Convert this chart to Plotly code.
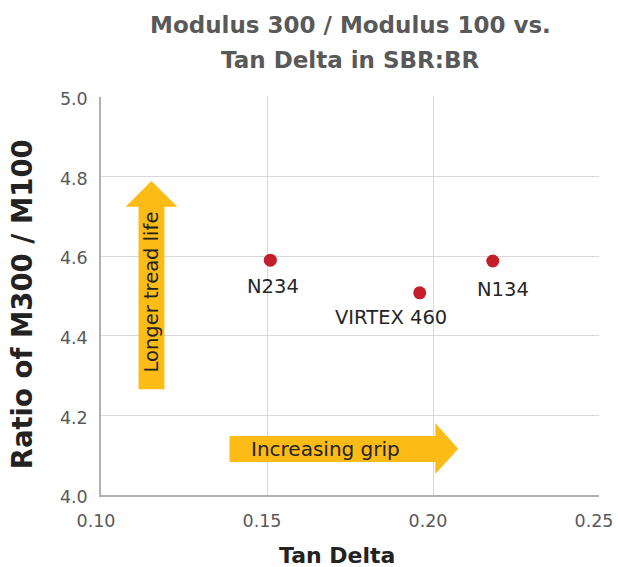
import plotly.graph_objects as go

# Data
names = ["N234", "VIRTEX 460", "N134"]
tan_delta = [0.151, 0.196, 0.218]
ratio = [4.590, 4.508, 4.588]

x_ticks = [0.10, 0.15, 0.20, 0.25]
y_ticks = [4.0, 4.2, 4.4, 4.6, 4.8, 5.0]

label_shift = {"N234": (3, -26), "VIRTEX 460": (-29, -25), "N134": (10, -29)}

FONT = "DejaVu Sans"
ARROW = "#FDBB16"

fig = go.Figure()
fig.add_trace(go.Scatter(
    x=tan_delta, y=ratio, mode="markers",
    marker=dict(color="#C41E2A", size=13),
    hoverinfo="text", text=names, showlegend=False,
))

for n, xv, yv in zip(names, tan_delta, ratio):
    dx, dy = label_shift[n]
    fig.add_annotation(x=xv, y=yv, text=n, showarrow=False,
                       xshift=dx, yshift=dy,
                       font=dict(family=FONT, size=19.5, color="#262626"))

# Up arrow (Longer tread life)
fig.add_shape(type="path", xref="x", yref="y", layer="above",
              path="M 0.1113 4.266 L 0.1191 4.266 L 0.1191 4.724 L 0.1230 4.724 "
                   "L 0.1152 4.789 L 0.1074 4.724 L 0.1113 4.724 Z",
              fillcolor=ARROW, line=dict(width=0))
fig.add_annotation(x=0.1152, y=4.510, xref="x", yref="y", text="Longer tread life",
                   showarrow=False, textangle=-90,
                   font=dict(family=FONT, size=19.5, color="#222222"))

# Right arrow (Increasing grip)
fig.add_shape(type="path", xref="x", yref="y", layer="above",
              path="M 0.1387 4.083 L 0.1387 4.148 L 0.2007 4.148 L 0.2007 4.181 "
                   "L 0.2076 4.116 L 0.2007 4.053 L 0.2007 4.083 Z",
              fillcolor=ARROW, line=dict(width=0))
fig.add_annotation(x=0.1447, y=4.116, xref="x", yref="y", text="Increasing grip",
                   showarrow=False, xanchor="left",
                   font=dict(family=FONT, size=20, color="#222222"))

# Titles
fig.add_annotation(x=0.5, y=1.1797, xref="paper", yref="paper", showarrow=False,
                   text="<b>Modulus 300 / Modulus 100 vs.</b>", yanchor="middle",
                   font=dict(family=FONT, size=23, color="#595959"))
fig.add_annotation(x=0.5, y=1.093, xref="paper", yref="paper", showarrow=False,
                   text="<b>Tan Delta in SBR:BR</b>", yanchor="middle",
                   font=dict(family=FONT, size=23, color="#595959"))
fig.add_annotation(x=0.473, y=-0.151, xref="paper", yref="paper", showarrow=False,
                   text="<b>Tan Delta</b>", yanchor="middle",
                   font=dict(family=FONT, size=22, color="#222222"))
fig.add_annotation(x=-0.158, y=0.480, xref="paper", yref="paper", showarrow=False,
                   text="<b>Ratio of M300 / M100</b>", textangle=-90,
                   xanchor="center", yanchor="middle",
                   font=dict(family=FONT, size=27.5, color="#222222"))

fig.update_layout(
    width=618, height=567,
    margin=dict(l=101, r=19, t=97, b=72),
    paper_bgcolor="white", plot_bgcolor="white",
    font=dict(family=FONT),
)

fig.update_xaxes(range=[0.10, 0.25], tickvals=x_ticks, tickformat=".2f",
                 showgrid=True, gridcolor="#d9d9d9", gridwidth=1,
                 showline=True, linecolor="#b0b0b0", linewidth=1.5,
                 zeroline=False, ticks="", automargin=False,
                 ticklabelstandoff=9, ticklabelshift=-5,
                 tickfont=dict(family=FONT, size=17.5, color="#595959"))
fig.update_yaxes(range=[4.0, 5.0], tickvals=y_ticks, tickformat=".1f",
                 showgrid=True, gridcolor="#d9d9d9", gridwidth=1,
                 showline=True, linecolor="#b0b0b0", linewidth=1.5,
                 zeroline=False, ticks="", automargin=False,
                 ticklabelstandoff=8, ticklabelshift=2,
                 tickfont=dict(family=FONT, size=17.5, color="#595959"))

fig.write_html("out.html",
               config={"displayModeBar": False},
               post_script="document.body.style.margin='0';"
                           "document.body.style.overflow='hidden';")
